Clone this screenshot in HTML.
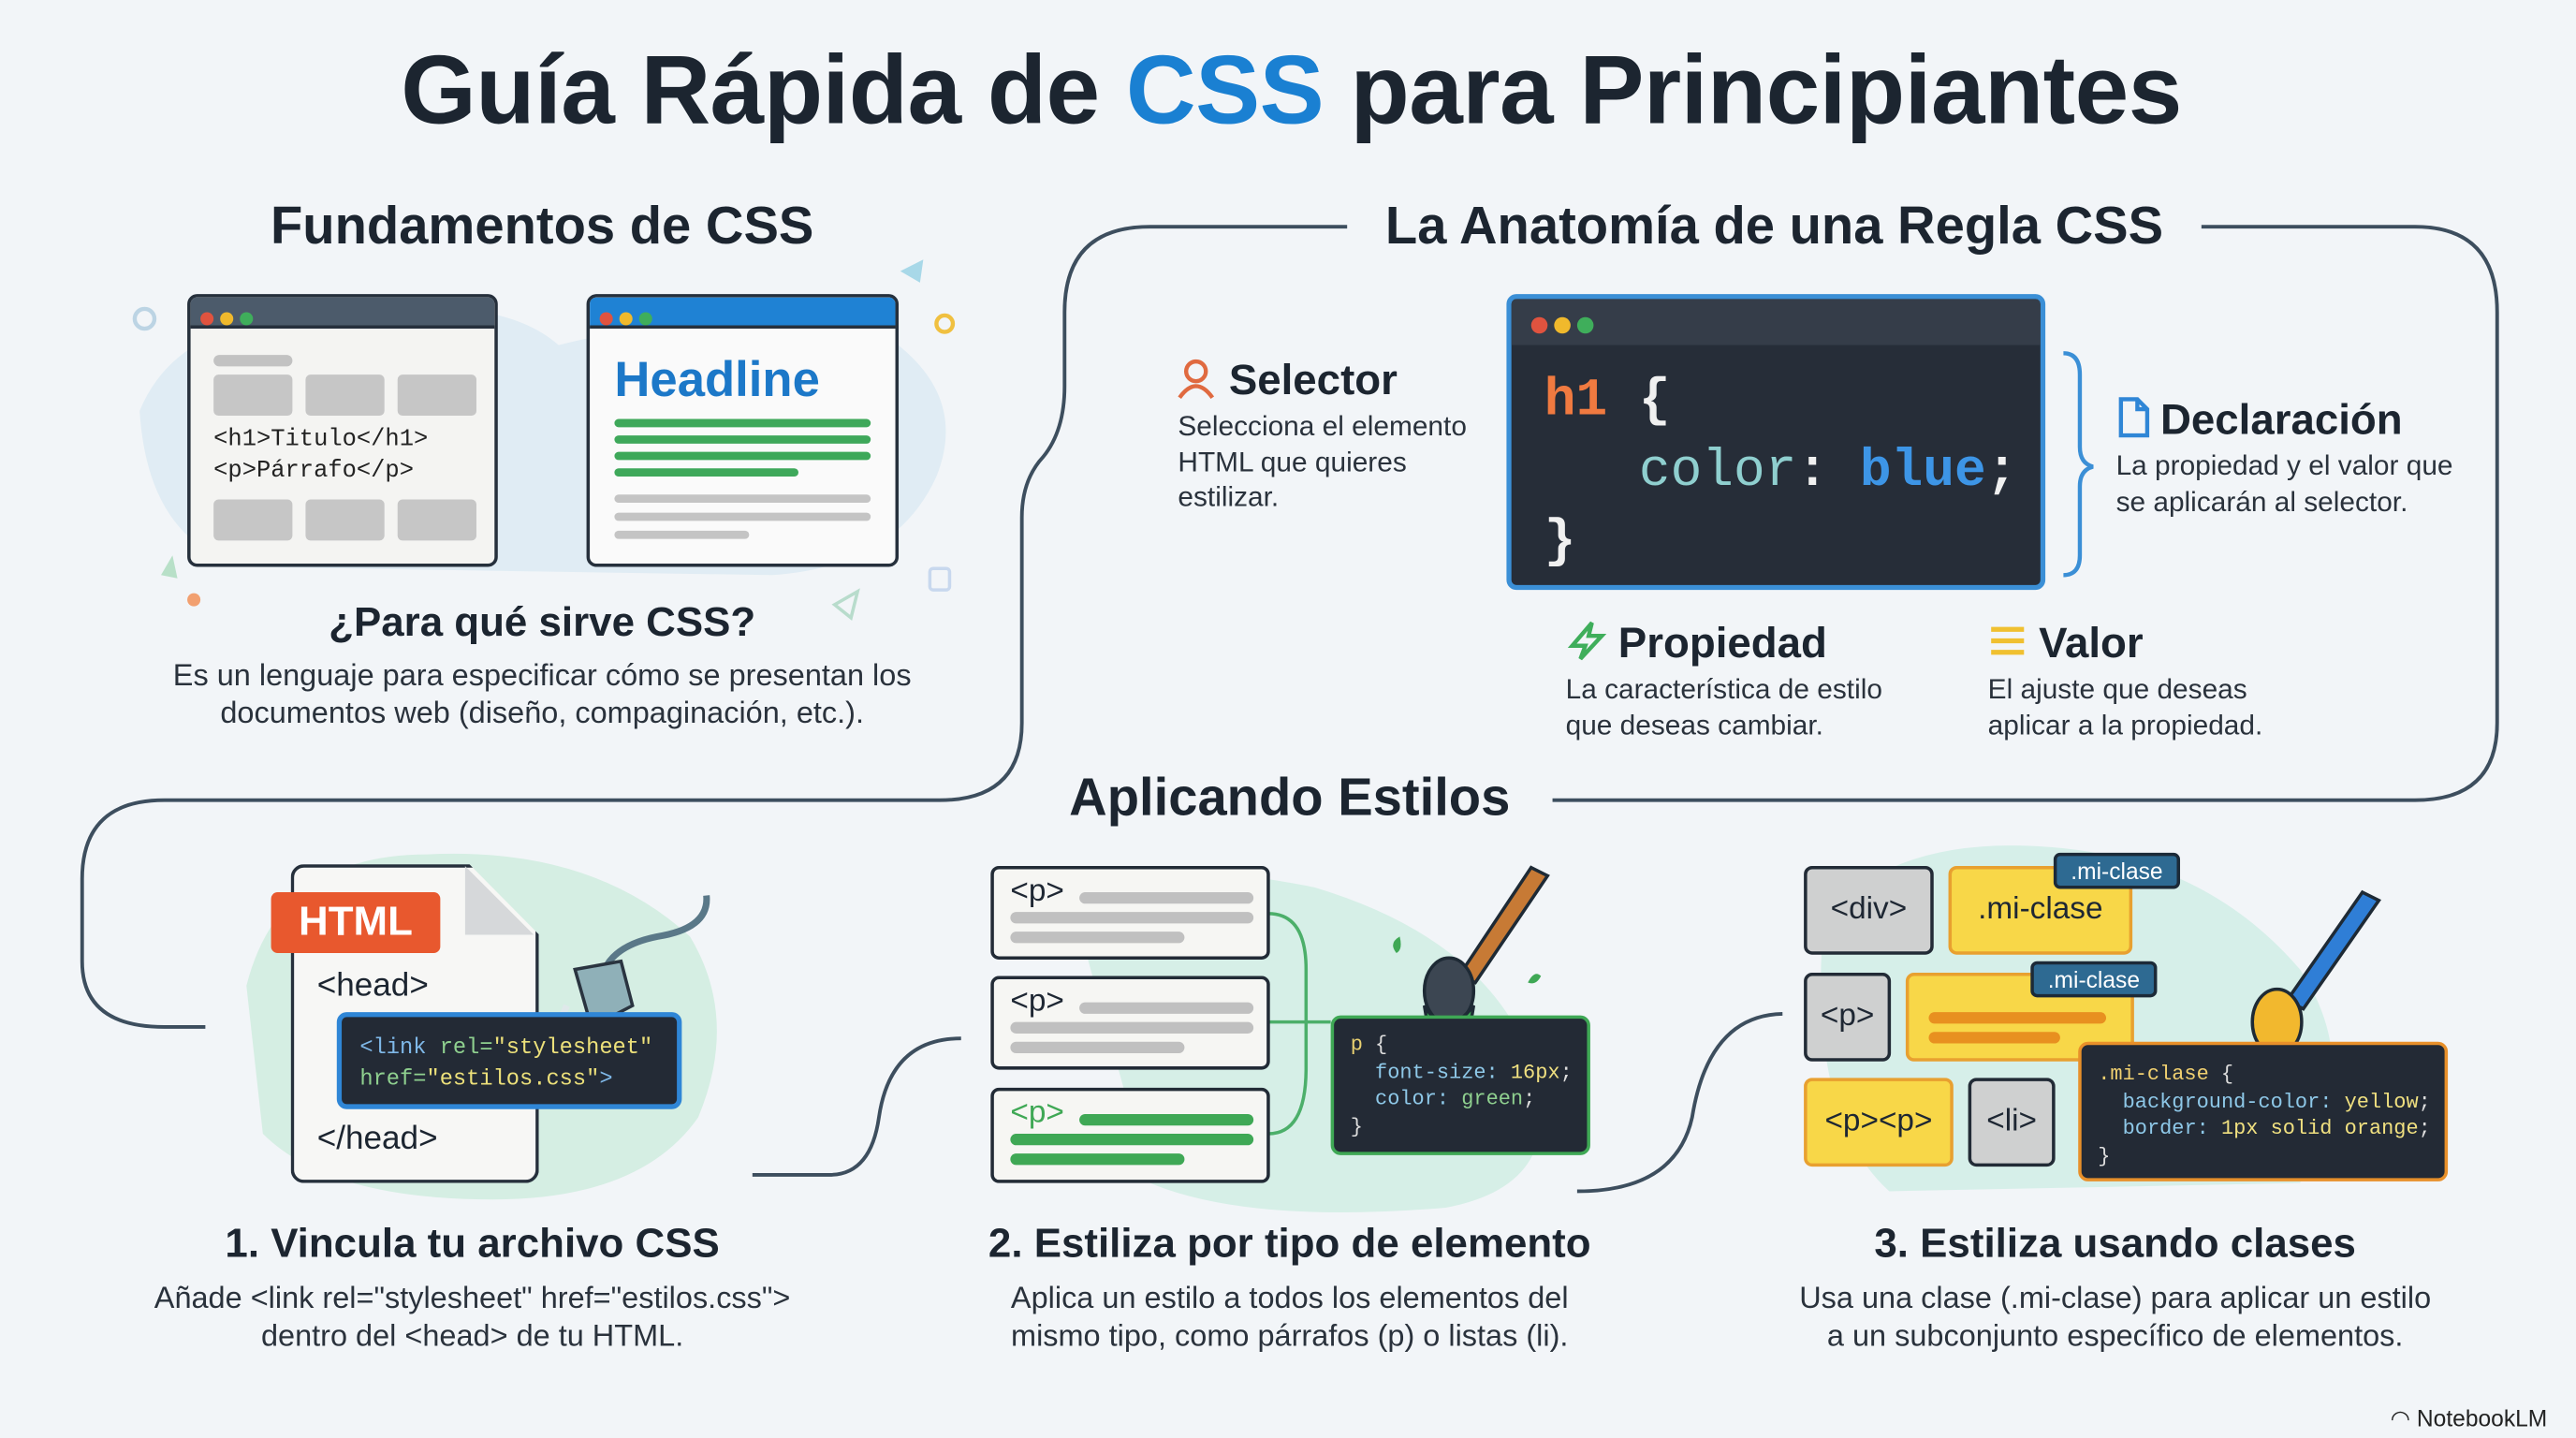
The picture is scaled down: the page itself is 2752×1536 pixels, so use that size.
<!DOCTYPE html>
<html><head><meta charset="utf-8"><style>
html,body{margin:0;padding:0;background:#f2f5f8;overflow:hidden}
#s{position:absolute;left:0;top:0;width:1568px;height:875px;transform:scale(1.7551);transform-origin:0 0;font-family:"Liberation Sans",sans-serif;color:#1e2733}
.a{position:absolute}
.h{font-weight:bold;color:#1c2530}
.c{text-align:center}
.m{font-family:"Liberation Mono",monospace}
.d{font-size:17.5px;line-height:22.5px;color:#2a323c}
.bar{position:absolute;height:7px;border-radius:4px}
.dot{display:inline-block;width:8px;height:8px;border-radius:50%;margin-right:4px}
.win{position:absolute;border:2.5px solid #26303c;border-radius:6px;overflow:hidden;background:#f4f4f2}
.box{position:absolute;border:2.5px solid #222b36;border-radius:5px}
.tag{position:absolute;background:#2e6a92;color:#fff;border:2px solid #1c2a38;border-radius:4px;font-size:14px;text-align:center;line-height:18px}
</style></head><body><div id="s">
<svg class="a" style="left:0;top:0" width="1568" height="875">
<g fill="none" stroke="#3d4e5e" stroke-width="2.2">
<path d="M820 138 H700 Q648 138 648 190 V235 Q648 262 635 278 Q622 292 622 315 V440 Q622 487 572 487 H100 Q50 487 50 535 V585 Q50 625 100 625 H125"/>
<path d="M1340 138 H1470 Q1520 138 1520 190 V440 Q1520 487 1470 487 H945"/>
<path d="M458 715 H505 Q530 715 535 680 Q542 632 585 632"/>
<path d="M960 725 Q1020 725 1030 680 Q1040 618 1085 617"/>
</g>
<path d="M85 250 Q110 190 200 195 Q300 175 340 210 Q440 185 540 205 Q590 240 570 290 Q545 345 470 350 L150 345 Q90 330 85 250Z" fill="#dbeaf2" opacity=".8"/>
<path d="M150 600 Q170 520 260 520 Q360 515 420 570 Q450 620 425 680 Q390 730 300 730 Q200 730 160 690Z" fill="#d5eee3"/>
<path d="M650 540 Q700 520 800 540 Q900 570 930 640 Q960 720 880 735 Q760 745 700 720Z" fill="#d6efe7"/>
<path d="M1110 560 Q1150 510 1240 515 Q1340 520 1400 590 Q1440 650 1400 720 L1150 725 Q1100 680 1110 560Z" fill="#d6efe9"/>
<circle cx="88" cy="194" r="6" fill="none" stroke="#bcd4e4" stroke-width="2.5"/>
<circle cx="575" cy="197" r="5" fill="none" stroke="#f0c040" stroke-width="2.5"/>
<circle cx="118" cy="365" r="4" fill="#f2a070"/>
<path d="M548 165 L562 158 L560 172Z" fill="#a8d8e8"/>
<path d="M98 350 L105 338 L108 352Z" fill="#b8e0c8"/>
<rect x="566" y="346" width="12" height="13" rx="2" fill="none" stroke="#c8d8ee" stroke-width="2"/>
<path d="M508 368 L522 360 L518 376Z" fill="none" stroke="#b8dccc" stroke-width="2"/>
<path d="M1256 215 Q1266 215 1266 228 V272 Q1266 282 1274 284 Q1266 286 1266 296 V338 Q1266 350 1256 350" fill="none" stroke="#3b8fd6" stroke-width="2.5"/>
<path d="M772 556 Q795 556 795 590 V650 Q795 690 772 690 M772 622 H810" fill="none" stroke="#4caf6a" stroke-width="2"/>
<g stroke="#2a3440" stroke-width="2">
<path d="M430 545 Q432 565 400 570 Q375 575 368 590" fill="none" stroke="#5a7888" stroke-width="4"/>
<path d="M350 590 L378 585 L385 612 L360 625Z" fill="#8fb0b8"/>
<path d="M345 612 L338 628 M355 620 L348 636" stroke="#dfe8ea" stroke-width="4"/>
</g>
<g stroke="#1e2a35" stroke-width="2">
<path d="M932 528 L942 533 L898 598 L888 594Z" fill="#c77a35"/>
<ellipse cx="882" cy="603" rx="15" ry="20" fill="#3c4652"/>
<path d="M867 612 Q880 634 897 612 L895 624 Q880 636 869 624Z" fill="#3fa855"/>
<path d="M1438 543 L1448 548 L1402 614 L1392 609Z" fill="#2f7ed6"/>
<ellipse cx="1386" cy="622" rx="15" ry="20" fill="#f2b82e"/>
</g>
<path d="M850 580 q-5 -6 2 -10 q2 8 -2 10Z M930 598 q4 -8 8 -4 q-3 6 -8 4Z" fill="#3fa855"/>
</svg>

<div class="a h c" style="left:0;width:1572px;top:21px;font-size:59px;letter-spacing:-.3px">Guía Rápida de <span style="color:#1a80d2">CSS</span> para Principiantes</div>

<div class="a h c" style="left:130px;width:400px;top:119px;font-size:32px">Fundamentos de CSS</div>
<div class="win" style="left:114px;top:179px;width:185px;height:162px">
 <div style="background:#4c5b6b;padding:4px 0 0 6px;box-sizing:border-box;border-bottom:2px solid #26303c;height:19px"><span class="dot" style="background:#e0533f"></span><span class="dot" style="background:#f0b92c"></span><span class="dot" style="background:#3fae5b"></span></div>
 <div class="bar" style="left:14px;top:35px;width:48px;background:#c2c2c2"></div>
 <div class="a" style="left:14px;top:47px;width:48px;height:25px;background:#c6c6c6;border-radius:3px"></div>
 <div class="a" style="left:70px;top:47px;width:48px;height:25px;background:#c6c6c6;border-radius:3px"></div>
 <div class="a" style="left:126px;top:47px;width:48px;height:25px;background:#c6c6c6;border-radius:3px"></div>
 <div class="a m" style="left:14px;top:78px;font-size:14.5px;line-height:19px;color:#222">&lt;h1&gt;Titulo&lt;/h1&gt;<br>&lt;p&gt;Párrafo&lt;/p&gt;</div>
 <div class="a" style="left:14px;top:123px;width:48px;height:25px;background:#c6c6c6;border-radius:3px"></div>
 <div class="a" style="left:70px;top:123px;width:48px;height:25px;background:#c6c6c6;border-radius:3px"></div>
 <div class="a" style="left:126px;top:123px;width:48px;height:25px;background:#c6c6c6;border-radius:3px"></div>
</div>
<div class="win" style="left:357px;top:179px;width:186px;height:162px;background:#fafafa">
 <div style="background:#1f82d4;padding:4px 0 0 6px;box-sizing:border-box;border-bottom:2px solid #26303c;height:19px"><span class="dot" style="background:#e0533f"></span><span class="dot" style="background:#f0b92c"></span><span class="dot" style="background:#3fae5b"></span></div>
 <div class="a" style="left:15px;top:34px;font-size:30px;font-weight:bold;color:#1c78c8">Headline</div>
 <div class="bar" style="left:15px;top:74px;width:156px;height:5px;background:#3ea85a"></div>
 <div class="bar" style="left:15px;top:84px;width:156px;height:5px;background:#3ea85a"></div>
 <div class="bar" style="left:15px;top:94px;width:156px;height:5px;background:#3ea85a"></div>
 <div class="bar" style="left:15px;top:104px;width:112px;height:5px;background:#3ea85a"></div>
 <div class="bar" style="left:15px;top:120px;width:156px;height:5px;background:#c4c4c4"></div>
 <div class="bar" style="left:15px;top:131px;width:156px;height:5px;background:#c4c4c4"></div>
 <div class="bar" style="left:15px;top:142px;width:82px;height:5px;background:#c4c4c4"></div>
</div>
<div class="a h c" style="left:130px;width:400px;top:365px;font-size:25px">¿Para qué sirve CSS?</div>
<div class="a d c" style="left:50px;width:560px;top:400px;font-size:18.5px">Es un lenguaje para especificar cómo se presentan los<br>documentos web (diseño, compaginación, etc.).</div>

<div class="a h c" style="left:820px;width:520px;top:119px;font-size:32px">La Anatomía de una Regla CSS</div>
<div class="a" style="left:917px;top:179px;width:322px;height:174px;background:#262d38;border:3px solid #3b8fd6;border-radius:6px;overflow:hidden">
 <div style="height:28px;background:#353d49;padding:8px 0 0 12px;box-sizing:border-box"><span class="dot" style="background:#e0533f;width:10px;height:10px"></span><span class="dot" style="background:#f0b92c;width:10px;height:10px"></span><span class="dot" style="background:#3fae5b;width:10px;height:10px"></span></div>
 <div class="a m" style="left:20px;top:40px;font-size:32px;line-height:43px;color:#f0f0f0;font-weight:bold;white-space:pre"><span style="color:#f07a40">h1</span> {
   <span style="color:#8fcfcf;font-weight:normal">color</span>: <span style="color:#3d95e6">blue</span>;
}</div>
</div>
<svg class="a" style="left:716px;top:218px" width="26" height="26"><circle cx="12" cy="8" r="6" fill="none" stroke="#e06a40" stroke-width="2.5"/><path d="M2 24 Q12 10 22 24" fill="none" stroke="#e06a40" stroke-width="2.5"/></svg>
<div class="a h" style="left:748px;top:216px;font-size:26px">Selector</div>
<div class="a d" style="left:717px;top:249px;font-size:17px;line-height:21.5px">Selecciona el elemento<br>HTML que quieres<br>estilizar.</div>
<svg class="a" style="left:1288px;top:241px" width="22" height="26"><path d="M3 2 H13 L19 8 V24 H3Z M13 2 V8 H19" fill="none" stroke="#2f86d6" stroke-width="2.5"/></svg>
<div class="a h" style="left:1315px;top:240px;font-size:26px">Declaración</div>
<div class="a d" style="left:1288px;top:273px;font-size:17px;line-height:21.5px">La propiedad y el valor que<br>se aplicarán al selector.</div>
<svg class="a" style="left:953px;top:377px" width="26" height="26"><path d="M16 2 L4 16 H12 L9 24 L22 10 H14Z" fill="none" stroke="#3fae5b" stroke-width="2.5"/></svg>
<div class="a h" style="left:985px;top:376px;font-size:26px">Propiedad</div>
<div class="a d" style="left:953px;top:409px;font-size:17px;line-height:21.5px">La característica de estilo<br>que deseas cambiar.</div>
<svg class="a" style="left:1210px;top:379px" width="24" height="22"><path d="M2 4 H22 M2 11 H22 M2 18 H22" stroke="#f0c030" stroke-width="3"/></svg>
<div class="a h" style="left:1241px;top:376px;font-size:26px">Valor</div>
<div class="a d" style="left:1210px;top:409px;font-size:17px;line-height:21.5px">El ajuste que deseas<br>aplicar a la propiedad.</div>

<div class="a h c" style="left:620px;width:330px;top:467px;font-size:32px">Aplicando Estilos</div>

<div class="a" style="left:177px;top:526px;width:147px;height:190px;background:#f7f7f5;border:2.5px solid #26303c;border-radius:8px;clip-path:polygon(0 0,72% 0,100% 22%,100% 100%,0 100%)"></div>
<div class="a" style="left:283px;top:527px;width:42px;height:42px;background:#d6d8da;clip-path:polygon(0 0,100% 100%,0 100%)"></div>
<div class="a" style="left:165px;top:543px;width:103px;height:37px;background:#e8582e;border-radius:4px;color:#fff;font-size:25px;font-weight:bold;line-height:37px;text-align:center">HTML</div>
<div class="a" style="left:193px;top:589px;font-size:20px;color:#1c2530">&lt;head&gt;</div>
<div class="a m" style="left:205px;top:616px;width:210px;height:59px;background:#232a35;border:3px solid #2f86d6;border-radius:6px;font-size:13.5px;line-height:19px;padding:10px 0 0 11px;box-sizing:border-box;color:#ece07a;white-space:pre"><span style="color:#7fb8e8">&lt;link</span> <span style="color:#8fd08f">rel=</span>"stylesheet"
<span style="color:#8fd08f">href=</span>"estilos.css"<span style="color:#7fb8e8">&gt;</span></div>
<div class="a" style="left:193px;top:682px;font-size:20px;color:#1c2530">&lt;/head&gt;</div>
<div class="a h c" style="left:60px;width:455px;top:743px;font-size:25px">1. Vincula tu archivo CSS</div>
<div class="a d c" style="left:30px;width:515px;top:779px;font-size:18.5px">Añade &lt;link rel="stylesheet" href="estilos.css"&gt;<br>dentro del &lt;head&gt; de tu HTML.</div>

<div class="box" style="left:603px;top:527px;width:166px;height:53px;background:#f6f6f3"><div class="a" style="left:10px;top:3px;font-size:19px">&lt;p&gt;</div><div class="bar" style="left:52px;top:14px;width:106px;background:#c0c0c0"></div><div class="bar" style="left:10px;top:26px;width:148px;background:#c0c0c0"></div><div class="bar" style="left:10px;top:38px;width:106px;background:#c0c0c0"></div></div>
<div class="box" style="left:603px;top:594px;width:166px;height:53px;background:#f6f6f3"><div class="a" style="left:10px;top:3px;font-size:19px">&lt;p&gt;</div><div class="bar" style="left:52px;top:14px;width:106px;background:#c0c0c0"></div><div class="bar" style="left:10px;top:26px;width:148px;background:#c0c0c0"></div><div class="bar" style="left:10px;top:38px;width:106px;background:#c0c0c0"></div></div>
<div class="box" style="left:603px;top:662px;width:166px;height:54px;background:#f6f6f3"><div class="a" style="left:10px;top:3px;font-size:19px;color:#3fa855">&lt;p&gt;</div><div class="bar" style="left:52px;top:14px;width:106px;background:#3fa855"></div><div class="bar" style="left:10px;top:26px;width:148px;background:#3fa855"></div><div class="bar" style="left:10px;top:38px;width:106px;background:#3fa855"></div></div>
<div class="a m" style="left:810px;top:618px;width:158px;height:85px;background:#232a35;border:2.5px solid #3fa855;border-radius:6px;box-sizing:border-box;font-size:12.5px;line-height:16.5px;padding:8px 0 0 10px;color:#ddd;white-space:pre"><span style="color:#e8d070">p</span> {
  <span style="color:#8ec8e8">font-size:</span> <span style="color:#f0e080">16px</span>;
  <span style="color:#8ec8e8">color:</span> <span style="color:#8fd08f">green</span>;
}</div>
<div class="a h c" style="left:560px;width:450px;top:743px;font-size:25px">2. Estiliza por tipo de elemento</div>
<div class="a d c" style="left:550px;width:470px;top:779px;font-size:18.5px">Aplica un estilo a todos los elementos del<br>mismo tipo, como párrafos (p) o listas (li).</div>

<div class="box" style="left:1098px;top:527px;width:75px;height:50px;background:#cfd0d0;font-size:19px;text-align:center;line-height:50px">&lt;div&gt;</div>
<div class="box" style="left:1186px;top:527px;width:108px;height:50px;background:#f8d748;border-color:#e8a030;font-size:19px;text-align:center;line-height:50px">.mi-clase</div>
<div class="tag" style="left:1250px;top:519px;width:73px">.mi-clase</div>
<div class="box" style="left:1098px;top:592px;width:49px;height:50px;background:#cfd0d0;font-size:19px;text-align:center;line-height:50px">&lt;p&gt;</div>
<div class="box" style="left:1160px;top:592px;width:135px;height:50px;background:#f8d748;border-color:#e8a030"><div class="bar" style="left:12px;top:22px;width:108px;background:#e89020"></div><div class="bar" style="left:12px;top:34px;width:80px;background:#e89020"></div></div>
<div class="tag" style="left:1236px;top:585px;width:73px">.mi-clase</div>
<div class="box" style="left:1098px;top:656px;width:87px;height:50px;background:#f8d748;border-color:#e8a030;font-size:19px;text-align:center;line-height:50px">&lt;p&gt;&lt;p&gt;</div>
<div class="box" style="left:1198px;top:656px;width:49px;height:50px;background:#cfd0d0;font-size:19px;text-align:center;line-height:50px">&lt;li&gt;</div>
<div class="a m" style="left:1265px;top:634px;width:225px;height:85px;background:#232a35;border:2.5px solid #e8902a;border-radius:6px;box-sizing:border-box;font-size:12.5px;line-height:16.5px;padding:10px 0 0 10px;color:#ddd;white-space:pre"><span style="color:#f0d070">.mi-clase</span> {
  <span style="color:#8ec8e8">background-color:</span> <span style="color:#f0e080">yellow</span>;
  <span style="color:#8ec8e8">border:</span> <span style="color:#f0e080">1px solid orange</span>;
}</div>
<div class="a h c" style="left:1060px;width:455px;top:743px;font-size:25px">3. Estiliza usando clases</div>
<div class="a d c" style="left:1030px;width:515px;top:779px;font-size:18.5px">Usa una clase (.mi-clase) para aplicar un estilo<br>a un subconjunto específico de elementos.</div>

<div class="a" style="left:1455px;top:855px;font-size:14px;color:#222">◠ NotebookLM</div>
</div></body></html>
